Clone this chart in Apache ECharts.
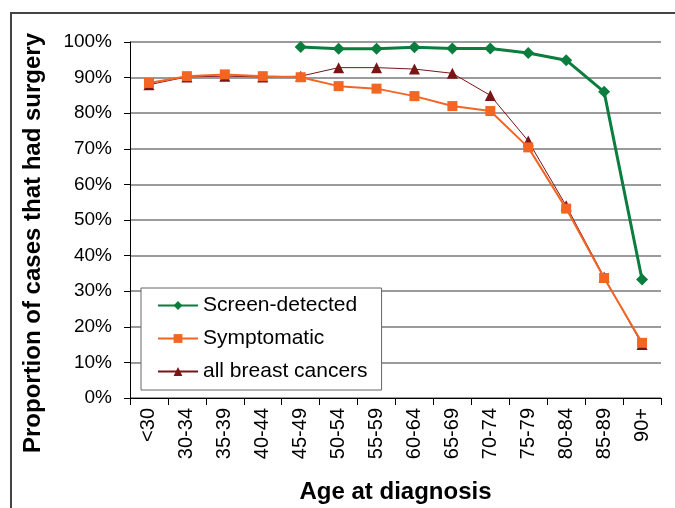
<!DOCTYPE html>
<html>
<head>
<meta charset="utf-8">
<script src="https://cdn.jsdelivr.net/npm/echarts@6/dist/echarts.min.js"></script>
<style>
  html, body { margin: 0; padding: 0; background: #fff; }
  #chart { width: 675px; height: 508px; }
</style>
</head>
<body>
<div id="chart"></div>
<script>
// age groups on the x axis
const ageGroups = ['<30', '30-34', '35-39', '40-44', '45-49', '50-54', '55-59', '60-64', '65-69', '70-74', '75-79', '80-84', '85-89', '90+']
// proportion that had surgery, per age group
const screenDetected = [null, null, null, null, 0.986, 0.981, 0.981, 0.985, 0.982, 0.982, 0.969, 0.949, 0.86, 0.333]
const symptomatic = [0.885, 0.904, 0.909, 0.904, 0.901, 0.876, 0.869, 0.848, 0.82, 0.806, 0.704, 0.532, 0.337, 0.155]
const allCancers = [0.88, 0.902, 0.904, 0.902, 0.904, 0.928, 0.928, 0.924, 0.912, 0.85, 0.722, 0.54, 0.34, 0.15]

const font = '"Liberation Sans", Arial, sans-serif'

let chart = echarts.init(document.getElementById('chart'))
chart.setOption({
  animation: false,
  backgroundColor: '#fff',
  textStyle: { fontFamily: font },
  grid: { left: 130, right: 14, top: 42, bottom: 110, outerBoundsMode: 'none', containLabel: false },
  legend: {
    orient: 'vertical',
    left: 141,
    top: 288,
    padding: [7, 14, 8, 16],
    itemGap: 12,
    itemWidth: 40,
    itemHeight: 11,
    backgroundColor: '#fff',
    borderColor: '#666',
    borderWidth: 1,
    textStyle: { fontSize: 21, color: '#000', fontFamily: font },
    data: ['Screen-detected', 'Symptomatic', 'all breast cancers']
  },
  xAxis: {
    type: 'category',
    data: ageGroups,
    boundaryGap: true,
    name: 'Age at diagnosis',
    nameLocation: 'middle',
    nameGap: 82,
    nameTextStyle: { fontSize: 24, fontWeight: 'bold', color: '#000', fontFamily: font },
    axisLine: { lineStyle: { color: '#000', width: 1 } },
    axisTick: { show: true, interval: 0, length: 7, lineStyle: { color: '#000' } },
    axisLabel: { rotate: 90, interval: 0, fontSize: 20, color: '#000', margin: 10, fontFamily: font }
  },
  yAxis: {
    type: 'value',
    min: 0,
    max: 1,
    interval: 0.1,
    axisLine: { show: true, lineStyle: { color: '#000', width: 1 } },
    axisTick: { show: true, length: 6, lineStyle: { color: '#000' } },
    axisLabel: {
      fontSize: 19,
      color: '#000',
      margin: 18,
      fontFamily: font,
      formatter: v => Math.round(v * 100) + '%'
    },
    splitLine: { lineStyle: { color: '#7a7a7a', width: 1.5 } }
  },
  series: [
    {
      name: 'Screen-detected',
      type: 'line',
      data: screenDetected,
      symbol: 'diamond',
      symbolSize: 12,
      color: '#0b7d3e',
      lineStyle: { width: 3 },
      z: 3
    },
    {
      name: 'Symptomatic',
      type: 'line',
      data: symptomatic,
      symbol: 'rect',
      symbolSize: 10,
      color: '#f26522',
      lineStyle: { width: 2 },
      z: 4
    },
    {
      name: 'all breast cancers',
      type: 'line',
      data: allCancers,
      symbol: 'triangle',
      symbolSize: 11,
      color: '#7b1416',
      lineStyle: { width: 1 },
      z: 2
    }
  ],
  graphic: [
    { type: 'line', shape: { x1: 10, y1: 13, x2: 675, y2: 13 }, style: { stroke: '#444', lineWidth: 2 } },
    { type: 'line', shape: { x1: 11, y1: 13, x2: 11, y2: 508 }, style: { stroke: '#444', lineWidth: 2 } },
    {
      // y axis title sits a little lower than the plot centre in the original
      type: 'text',
      x: 33,
      y: 243,
      rotation: Math.PI / 2,
      style: {
        text: 'Proportion of cases that had surgery',
        font: 'bold 24px ' + font,
        fill: '#000',
        align: 'center',
        verticalAlign: 'middle'
      }
    }
  ]
})
</script>
</body>
</html>
